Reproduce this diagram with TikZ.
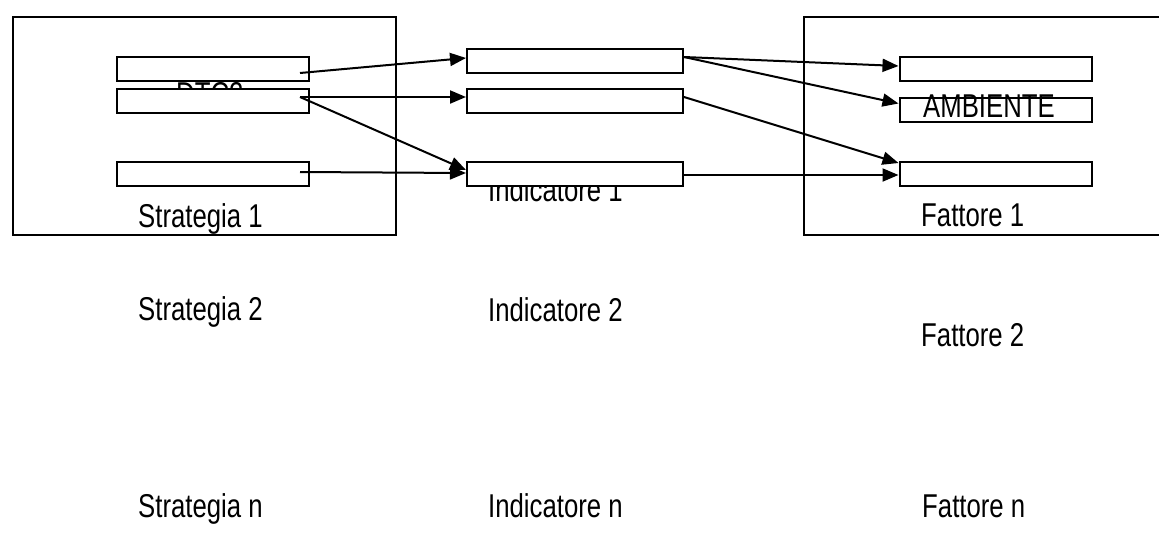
\documentclass[tikz,border=0pt]{standalone}
\usepackage{fontspec}
\setmainfont{Liberation Sans}[FakeStretch=0.78]
\usetikzlibrary{arrows.meta}

\begin{document}
\begin{tikzpicture}[x=1pt,y=-1pt,
every node/.style={font=\fontsize{33}{38}\selectfont},
frame/.style={draw,line width=2pt,anchor=north west,inner sep=0pt,minimum height=218pt},
cell/.style={draw,fill=white,line width=2pt,minimum width=192pt,minimum height=24pt,inner sep=0pt},
lab/.style={anchor=base west,inner sep=0pt},
link/.style={line width=2pt,-{Triangle[length=16pt,width=13pt]}}]
\clip (0,0) rectangle (1159,541);
\node[frame,minimum width=383pt] (sframe) at (12,16) {};
\node[frame,minimum width=380pt] (fframe) at (803,16) {};
\node[lab] (dtc) at (176,105) {DTC2};
\node[lab] (ind1) at (488,201) {Indicatore 1};
\node[cell] (s1) at (213,69) {};
\node[cell] (s2) at (213,101) {};
\node[cell] (s3) at (213,174) {};
\node[cell,minimum width=216pt] (i1) at (575,61) {};
\node[cell,minimum width=216pt] (i2) at (575,101) {};
\node[cell,minimum width=216pt] (i3) at (575,174) {};
\node[cell] (f1) at (995.5,69) {};
\node[cell] (f2) at (995.5,109.5) {};
\node[cell] (f3) at (995.5,174) {};
\node[lab] (amb) at (923,117) {AMBIENTE};
\node[lab] (str1) at (138,227) {Strategia 1};
\node[lab] (fat1) at (921,226) {Fattore 1};
\node[lab] (str2) at (138,320) {Strategia 2};
\node[lab] (ind2) at (488,321) {Indicatore 2};
\node[lab] (fat2) at (921,346) {Fattore 2};
\node[lab] (strn) at (138,517) {Strategia n};
\node[lab] (indn) at (488,517) {Indicatore n};
\node[lab] (fatn) at (922,517) {Fattore n};
\draw[link] ([xshift=-10pt,yshift=-4pt]s1.east) -- ([yshift=3pt]i1.west);
\draw[link] ([xshift=-10pt,yshift=4pt]s2.east) -- ([yshift=4pt]i2.west);
\draw[link] ([xshift=-10pt,yshift=4pt]s2.east) -- ([yshift=4pt]i3.west);
\draw[link] ([xshift=-10pt,yshift=2pt]s3.east) -- ([yshift=1pt]i3.west);
\draw[link] ([yshift=4pt]i1.east) -- ([yshift=3pt]f1.west);
\draw[link] ([yshift=4pt]i1.east) -- ([yshift=6pt]f2.west);
\draw[link] ([yshift=4pt]i2.east) -- ([yshift=-2pt]f3.north west);
\draw[link] ([yshift=-1pt]i3.east) -- ([yshift=-1pt]f3.west);
\end{tikzpicture}
\end{document}
